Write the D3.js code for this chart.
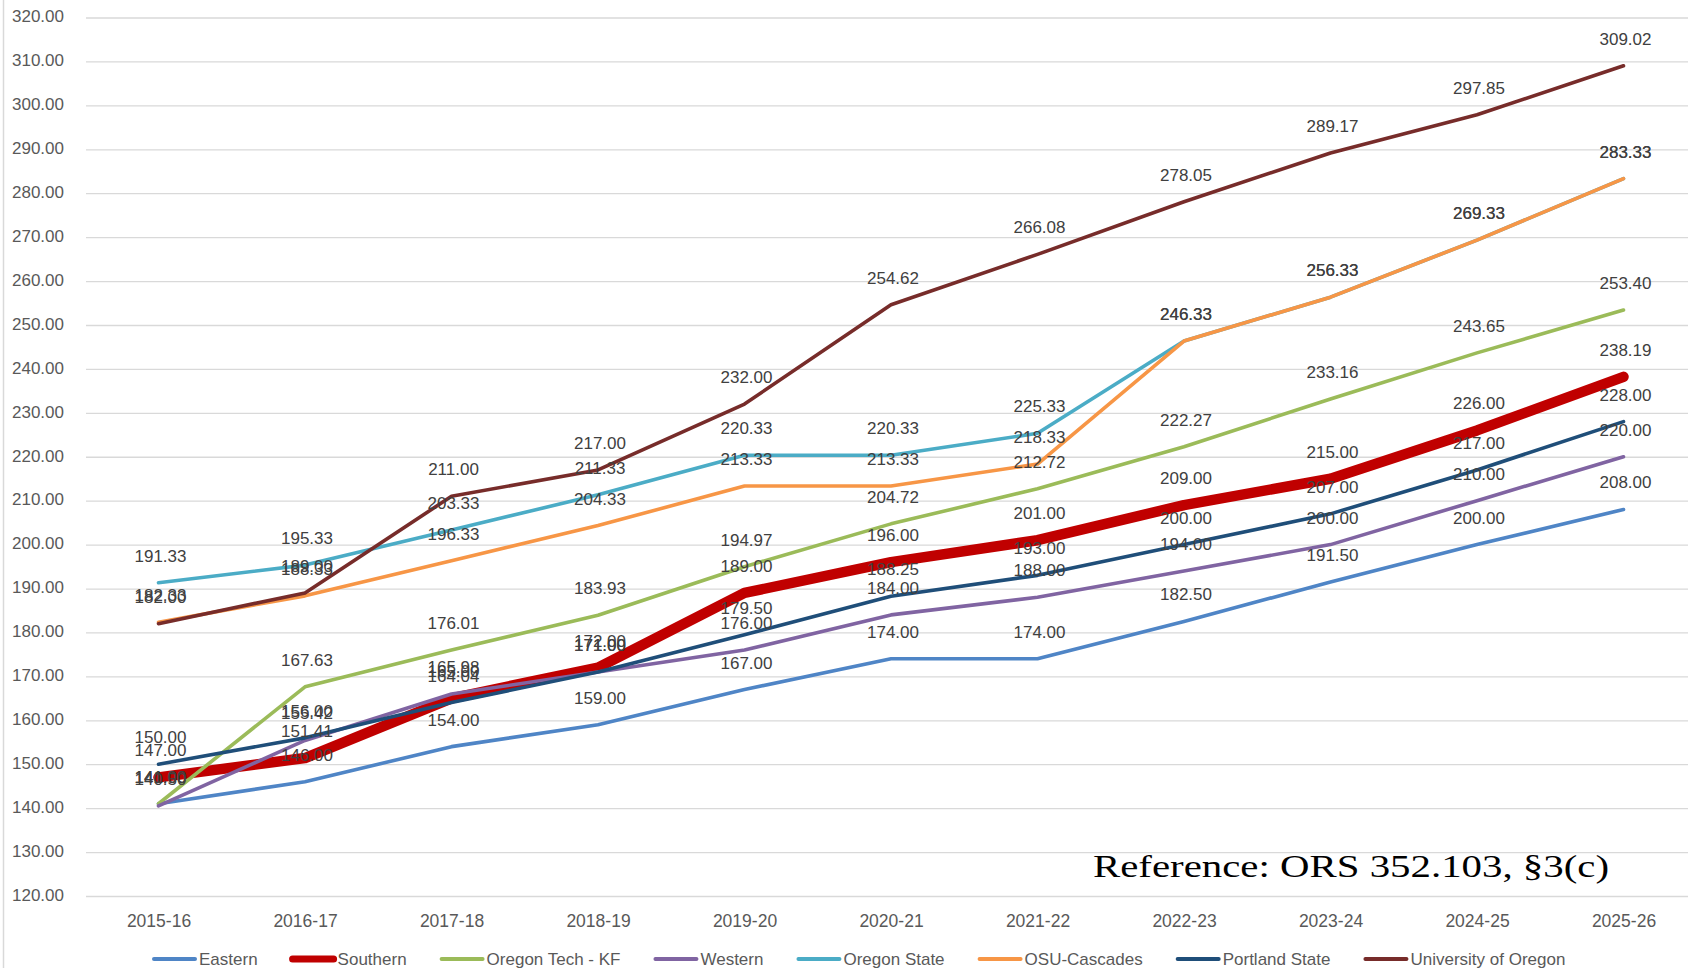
<!DOCTYPE html>
<html>
<head>
<meta charset="utf-8">
<script src="https://cdn.jsdelivr.net/npm/d3@7"></script>
<style>
  html, body { margin: 0; padding: 0; background: #ffffff; overflow: hidden; }
  text { font-family: "Liberation Sans", Arial, sans-serif; }
  text.note { font-family: "Liberation Serif", "DejaVu Serif", serif; }
</style>
</head>
<body>
<script>
const categories = ["2015-16","2016-17","2017-18","2018-19","2019-20","2020-21","2021-22","2022-23","2023-24","2024-25","2025-26"];
const yTicks = [120,130,140,150,160,170,180,190,200,210,220,230,240,250,260,270,280,290,300,310,320];

const eastern       = [141.00, 146.00, 154.00, 159.00, 167.00, 174.00, 174.00, 182.50, 191.50, 200.00, 208.00];
const southern      = [147.00, 151.41, 165.00, 172.00, 189.00, 196.00, 201.00, 209.00, 215.00, 226.00, 238.19];
const oregonTechKF  = [141.00, 167.63, 176.01, 183.93, 194.97, 204.72, 212.72, 222.27, 233.16, 243.65, 253.40];
const western       = [140.50, 155.42, 165.98, 171.00, 176.00, 184.00, 188.00, 194.00, 200.00, 210.00, 220.00];
const oregonState   = [191.33, 195.33, 203.33, 211.33, 220.33, 220.33, 225.33, 246.33, 256.33, 269.33, 283.33];
const osuCascades   = [182.33, 188.33, 196.33, 204.33, 213.33, 213.33, 218.33, 246.33, 256.33, 269.33, 283.33];
const portlandState = [150.00, 156.00, 164.04, 171.00, 179.50, 188.25, 193.00, 200.00, 207.00, 217.00, 228.00];
const univOregon    = [182.00, 189.00, 211.00, 217.00, 232.00, 254.62, 266.08, 278.05, 289.17, 297.85, 309.02];

const seriesNames = ["Eastern","Southern","Oregon Tech - KF","Western","Oregon State","OSU-Cascades","Portland State","University of Oregon"];
const seriesValues = [eastern, southern, oregonTechKF, western, oregonState, osuCascades, portlandState, univOregon];
const seriesColors = ["#4f85c6","#c00000","#9bbb59","#8064a2","#4bacc6","#f79646","#1f4e79","#772c2a"];
const referenceNote = "Reference: ORS 352.103, §3(c)";

const W = 1688, H = 968;
const svg = d3.select("body").append("svg").attr("width", W).attr("height", H);

// frame border on the left
svg.append("line").attr("x1", 3.5).attr("x2", 3.5).attr("y1", 0).attr("y2", H)
  .attr("stroke", "#d9d9d9").attr("stroke-width", 1.5);

const x = d3.scalePoint().domain(categories).range([158.5, 1623.5]);
const y = d3.scaleLinear().domain([120, 320]).range([896, 17.5]);
const fmt = d3.format(".2f");

// gridlines
const grid = svg.append("g").attr("transform", `translate(${W},0)`)
  .call(d3.axisLeft(y).tickValues(yTicks).tickSize(W - 86).tickFormat(""));
grid.select(".domain").remove();
grid.selectAll("line").attr("stroke", "#d9d9d9").attr("stroke-width", 1.3);

// y labels
const yAx = svg.append("g").attr("transform", "translate(86,0)")
  .call(d3.axisLeft(y).tickValues(yTicks).tickSize(0).tickPadding(22).tickFormat(fmt));
yAx.select(".domain").remove();
yAx.selectAll("text").attr("font-size", 17).attr("fill", "#595959").attr("dy", "0.25em");

// x labels
const xAx = svg.append("g").attr("transform", "translate(0,896)")
  .call(d3.axisBottom(x).tickSize(0));
xAx.select(".domain").remove();
xAx.selectAll("text").attr("y", 25).attr("dy", "0.35em").attr("font-size", 17.5)
  .attr("fill", "#595959");

// reference note
svg.append("text").attr("class", "note").attr("x", 1093).attr("y", 877)
  .attr("font-size", 31).attr("fill", "#000")
  .attr("textLength", 516).attr("lengthAdjust", "spacingAndGlyphs")
  .text(referenceNote);

// lines
const line = d3.line().x((d, i) => x(categories[i])).y(d => y(d));
seriesValues.forEach((vals, s) => {
  svg.append("path").datum(vals)
    .attr("d", line)
    .attr("fill", "none")
    .attr("stroke", seriesColors[s])
    .attr("stroke-width", s === 1 ? 10.5 : 3.6)
    .attr("stroke-linejoin", "round")
    .attr("stroke-linecap", "round");
});

// data labels
const labG = svg.append("g");
seriesValues.forEach((vals, s) => {
  labG.selectAll(null).data(vals).enter().append("text")
    .attr("x", (d, i) => x(categories[i]) + 2)
    .attr("y", d => y(d) - 27)
    .attr("dy", "0.35em")
    .attr("text-anchor", "middle")
    .attr("font-size", 17)
    .attr("fill", "#404040")
    .text(d => fmt(d));
});

// legend
const leg = svg.append("g").attr("transform", "translate(0,959)");
let lx = 152;
seriesNames.forEach((name, s) => {
  leg.append("line").attr("x1", lx + 2).attr("x2", lx + 43).attr("y1", 0).attr("y2", 0)
    .attr("stroke", seriesColors[s]).attr("stroke-width", s === 1 ? 7 : 4)
    .attr("stroke-linecap", "round");
  const t = leg.append("text").attr("x", lx + 47).attr("y", 0).attr("dy", "0.35em")
    .attr("font-size", 17).attr("fill", "#595959").text(name);
  const w = t.node().getComputedTextLength();
  lx += 47 + w + 33;
});
</script>
</body>
</html>
